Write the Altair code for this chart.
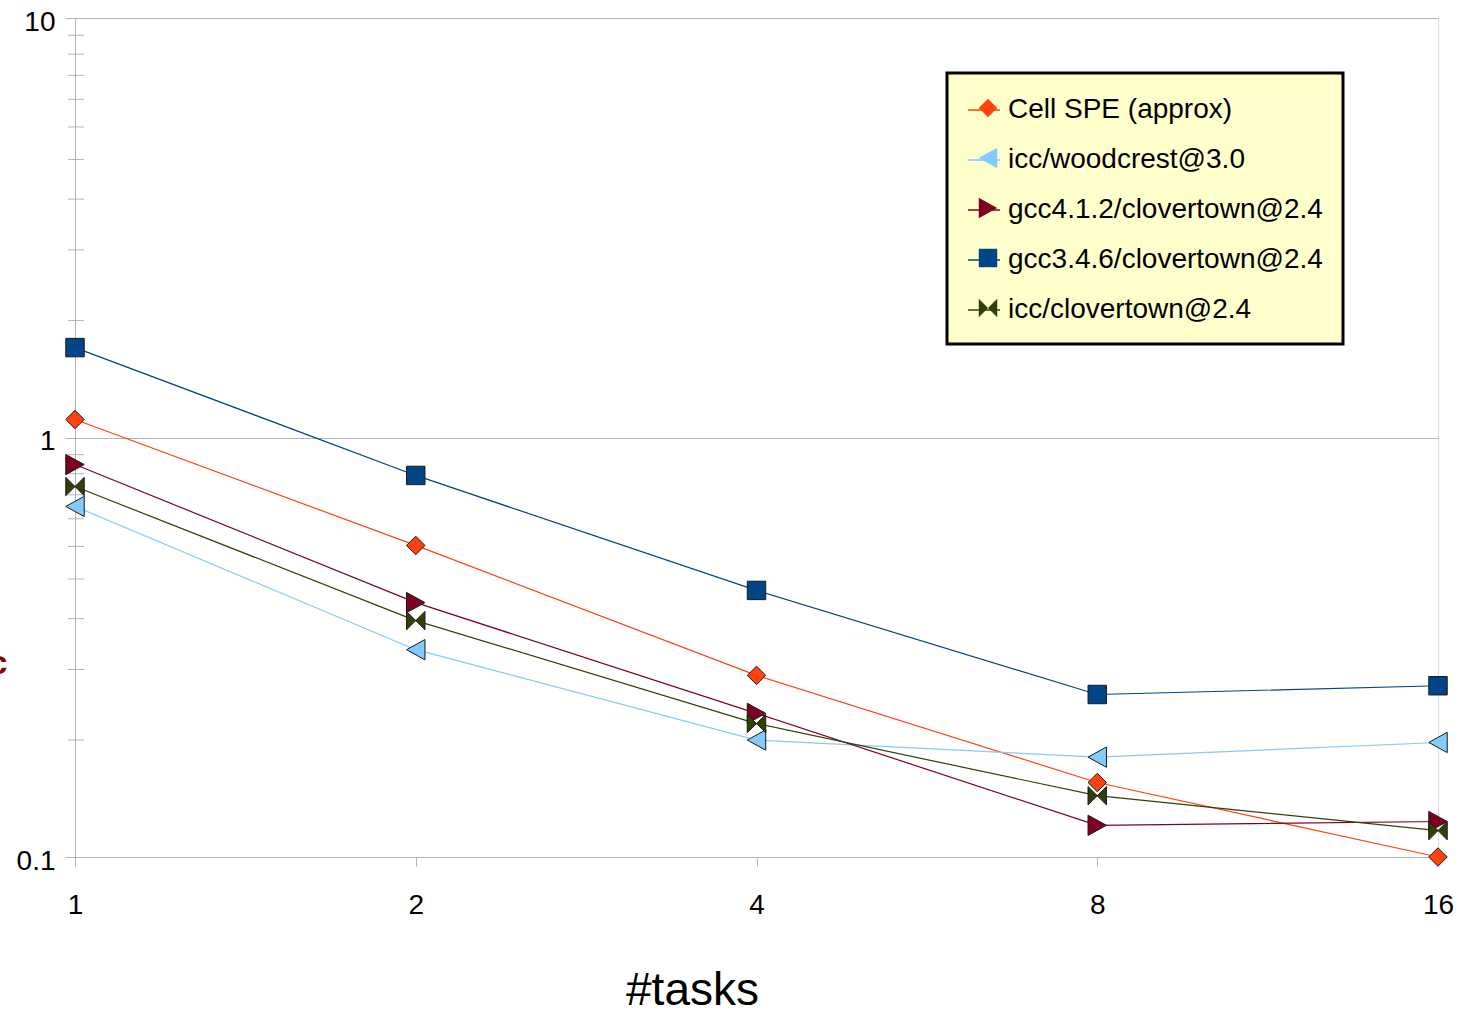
import altair as alt
import pandas as pd

tasks = [1, 2, 4, 8, 16]
series = ["Cell SPE (approx)", "icc/woodcrest@3.0", "gcc4.1.2/clovertown@2.4",
          "gcc3.4.6/clovertown@2.4", "icc/clovertown@2.4"]
cell_spe = [1.104, 0.553, 0.271, 0.1505, 0.100]
icc_woodcrest = [0.685, 0.312, 0.190, 0.173, 0.1875]
gcc412_clovertown = [0.862, 0.404, 0.220, 0.119, 0.1215]
gcc346_clovertown = [1.638, 0.812, 0.432, 0.244, 0.256]
icc_clovertown = [0.764, 0.366, 0.208, 0.140, 0.1156]

colors = ["#ff420e", "#83caff", "#7e0021", "#004586", "#314004"]
shapes = ["diamond", "M-1,0L1,-1.1L1,1.1Z", "M1,0L-1,-1.1L-1,1.1Z", "square",
          "M-1,-1L0,0L-1,1Z M1,-1L0,0L1,1Z"]

y_major = [0.1, 1, 10]
y_minor = [0.19, 0.28, 0.37, 0.46, 0.55, 0.64, 0.73, 0.82, 0.91,
           1.9, 2.8, 3.7, 4.6, 5.5, 6.4, 7.3, 8.2, 9.1]

# line legend uses a separate (whitespace-suffixed) domain so Vega-Lite keeps it apart
line_names = [s + " " for s in series]

values = [cell_spe, icc_woodcrest, gcc412_clovertown, gcc346_clovertown, icc_clovertown]
rows = []
for name, lname, vals in zip(series, line_names, values):
    for t, v in zip(tasks, vals):
        rows.append({"tasks": t, "time": v, "series": name, "line_series": lname})
df = pd.DataFrame(rows)
minor_df = pd.DataFrame({"v": y_minor})

FONT = "Liberation Sans"
GRID = "#b3b3b3"

x_enc = alt.X("tasks:Q",
              scale=alt.Scale(type="log", base=2, domain=[1, 16], nice=False),
              axis=alt.Axis(values=tasks, format="d", title="#tasks", grid=False,
                            labelFlush=False,
                            domainColor=GRID, tickColor=GRID, tickSize=9,
                            labelFontSize=28, labelFont=FONT, labelColor="black",
                            labelPadding=25, titleFontSize=46, titleFont=FONT,
                            titleFontWeight="normal", titleColor="black",
                            titleX=617, titleY=147, titleBaseline="alphabetic",
                            titleAnchor="start", titleAlign="center"))
y_scale = alt.Scale(type="log", domain=[0.1, 10], nice=False)
y_enc = alt.Y("time:Q", scale=y_scale,
              axis=alt.Axis(values=y_major, format="~g", title="sec", grid=True,
                            labelFlush=False,
                            gridColor=GRID, domainColor=GRID, tickColor=GRID,
                            tickSize=10, labelFontSize=28, labelFont=FONT,
                            labelColor="black", labelPadding=10, labelOffset=4,
                            titleAngle=0, titleAlign="right", titleBaseline="middle",
                            titleX=-68, titleY=645, titleFontSize=34, titleFont=FONT,
                            titleFontWeight="bold", titleColor="#8b0000"))

LX, LY = 872, 55
common_leg = dict(orient="none", legendX=LX, title=None, padding=20,
                  labelFontSize=28, labelFont=FONT, labelOffset=7, labelLimit=0)

lines = alt.Chart(df).mark_line(strokeWidth=1.2).encode(
    x=x_enc, y=y_enc,
    stroke=alt.Stroke("line_series:N", scale=alt.Scale(domain=line_names, range=colors),
                      legend=alt.Legend(symbolType="stroke", symbolSize=1024,
                                        symbolStrokeWidth=1.5, fillColor="#ffffcc",
                                        strokeColor="black", zindex=0, legendY=LY,
                                        rowPadding=19,
                                        labelColor="black", **common_leg)),
)

shape_leg = alt.Legend(symbolSize=340, symbolOffset=7, zindex=1, legendY=LY + 1,
                       rowPadding=22, symbolStrokeColor="#1a1a1a", symbolStrokeWidth=1,
                       labelExpr="''", **common_leg)

points = alt.Chart(df).mark_point(filled=True, size=340, stroke="#1a1a1a",
                                  strokeWidth=1, opacity=1).encode(
    x="tasks:Q", y="time:Q",
    fill=alt.Fill("series:N", scale=alt.Scale(domain=series, range=colors),
                  legend=shape_leg),
    shape=alt.Shape("series:N", scale=alt.Scale(domain=series, range=shapes),
                    legend=shape_leg),
)

minor = alt.Chart(minor_df).mark_rule(color=GRID, strokeWidth=1).encode(
    y=alt.Y("v:Q", scale=y_scale),
    x=alt.value(-7), x2=alt.value(9),
)

chart = alt.layer(minor, lines, points).properties(
    width=1363, height=839,
    autosize=alt.AutoSizeParams(type="none"),
    padding={"left": 75, "top": 18, "right": 31, "bottom": 158},
).configure_view(stroke=GRID, strokeWidth=1).configure(background="white"
).configure_legend(strokeWidth=3)

chart.save("out.html", embed_options={"renderer": "svg", "actions": False})
